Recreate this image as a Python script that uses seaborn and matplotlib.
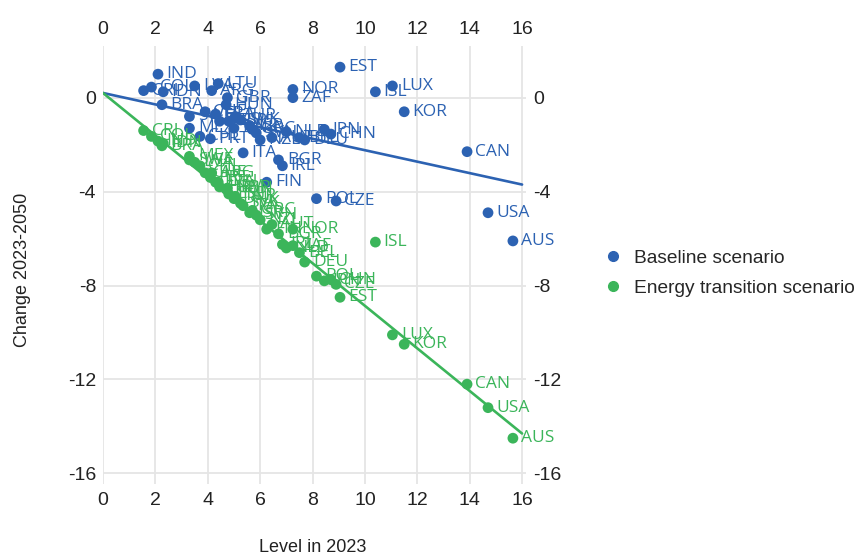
import matplotlib
matplotlib.use("Agg")
import matplotlib.pyplot as plt
import seaborn as sns
import pandas as pd
from matplotlib.lines import Line2D

countries = ["CRI", "COL", "IND", "IDN", "BRA", "MEX", "CHL", "LVA", "SWE", "ARG",
             "PRT", "CHE", "LTU", "FRA", "HRV", "GBR", "HUN", "ESP", "DNK", "TUR",
             "SVK", "ITA", "ISR", "GRC", "SVN", "NZL", "FIN", "AUT", "BGR", "IRL",
             "NLD", "NOR", "ZAF", "BEL", "DEU", "POL", "JPN", "CHN", "CZE", "EST",
             "ISL", "LUX", "KOR", "CAN", "USA", "AUS"]
level = [1.55, 1.85, 2.1, 2.3, 2.25, 3.3, 3.7, 3.5, 3.3, 4.15,
         4.1, 3.9, 4.4, 4.3, 4.45, 4.75, 4.7, 4.8, 5.0, 5.05,
         5.25, 5.35, 5.6, 5.7, 5.85, 6.0, 6.25, 6.45, 6.7, 6.85,
         7.0, 7.25, 7.25, 7.5, 7.7, 8.15, 8.45, 8.7, 8.9, 9.05,
         10.4, 11.05, 11.5, 13.9, 14.7, 15.65]
baseline = [0.3, 0.45, 1.0, 0.25, -0.3, -1.3, -1.65, 0.5, -0.8, 0.3,
            -1.75, -0.6, 0.6, -0.7, -1.0, 0.0, -0.3, -1.0, -1.3, -0.8,
            -0.95, -2.35, -1.2, -1.35, -1.5, -1.8, -3.6, -1.7, -2.65, -2.9,
            -1.45, 0.35, 0.0, -1.7, -1.8, -4.3, -1.35, -1.55, -4.4, 1.3,
            0.25, 0.5, -0.6, -2.3, -4.9, -6.1]
energy = [-1.4, -1.65, -1.85, -1.95, -2.05, -2.5, -2.9, -2.75, -2.65, -3.2,
          -3.4, -3.2, -3.6, -3.6, -3.8, -3.85, -3.9, -4.1, -4.3, -4.2,
          -4.5, -4.6, -4.9, -4.8, -5.0, -5.2, -5.6, -5.4, -5.8, -6.25,
          -6.4, -5.6, -6.3, -6.6, -7.0, -7.6, -7.8, -7.75, -7.95, -8.5,
          -6.15, -10.1, -10.5, -12.2, -13.2, -14.5]

trend_x = [0, 16]
trend_baseline = [0.2, -3.7]
trend_energy = [0.2, -14.3]

scenarios = ["Baseline scenario", "Energy transition scenario"]
colors = ["#2c62b2", "#3bb55a"]
x_ticks = [0, 2, 4, 6, 8, 10, 12, 14, 16]
y_ticks = [-16, -12, -8, -4, 0]

df = pd.DataFrame({
    "country": countries * 2,
    "level": level * 2,
    "change": baseline + energy,
    "scenario": [scenarios[0]] * len(countries) + [scenarios[1]] * len(countries),
})

sns.set_theme(style="white")
plt.rcParams["font.family"] = ["Liberation Sans", "DejaVu Sans"]
plt.rcParams["axes.unicode_minus"] = False

fig = plt.figure(figsize=(8.57, 5.59), dpi=100)
ax = fig.add_axes([103 / 857, 1 - 484 / 559, (526 - 103) / 857, (484 - 46) / 559])

pal = dict(zip(scenarios, colors))
sns.scatterplot(data=df, x="level", y="change", hue="scenario", palette=pal,
                s=60, linewidth=0, ax=ax, legend=False, zorder=3)
sns.lineplot(x=trend_x, y=trend_baseline, color=colors[0], lw=1.9, ax=ax, zorder=2)
sns.lineplot(x=trend_x, y=trend_energy, color=colors[1], lw=1.9, ax=ax, zorder=2)

for _, r in df.iterrows():
    ax.annotate(r["country"], (r["level"], r["change"]), xytext=(6, 0),
                textcoords="offset points", va="center", ha="left",
                fontsize=12.5, color=pal[r["scenario"]],
                family=["Open Sans", "DejaVu Sans"], zorder=4)

ax.set_xlim(0, 16.15)
ax.set_ylim(-16.45, 2.2)
ax.set_xticks(x_ticks)
ax.set_yticks(y_ticks)
ax.set_xticklabels([str(v) for v in x_ticks])
ax.set_yticklabels([str(v) for v in y_ticks])
ax.grid(True, color="#e5e5e5", lw=1.3)
ax.set_axisbelow(True)
for s in ax.spines.values():
    s.set_visible(False)
ax.tick_params(axis="x", labeltop=True, labelbottom=True, top=False, bottom=False,
               length=0, labelsize=14, pad=6, colors="#222222")
ax.tick_params(axis="y", labelleft=True, labelright=True, left=False, right=False,
               length=0, labelsize=14, pad=5, colors="#222222")
ax.set_xlabel("")
ax.set_ylabel("")
fig.text(313 / 857, 1 - 548 / 559, "Level in 2023", ha="center", va="center",
         fontsize=13, color="#222222")
fig.text(23 / 857, 1 - 270 / 559, "Change 2023-2050", ha="center", va="center",
         rotation=90, fontsize=13, color="#222222")

handles = [Line2D([], [], marker="o", ls="", color=c, markersize=7) for c in colors]
fig.legend(handles, scenarios, loc="center left", bbox_to_anchor=(603 / 857, 1 - 273 / 559),
           frameon=False, fontsize=13.8, handlelength=1.0, handletextpad=0.6,
           labelspacing=0.65, borderpad=0, borderaxespad=0)

fig.savefig("out.png", dpi=100)
